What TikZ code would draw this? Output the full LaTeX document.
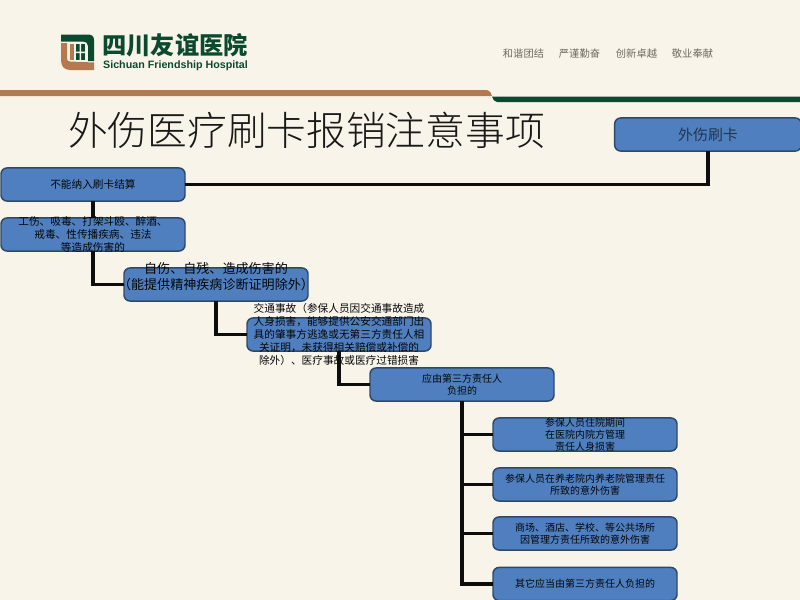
\documentclass[tikz,border=0pt]{standalone}
\usepackage{fontspec}
\setmainfont{Noto Sans CJK SC}
\newfontfamily\titlefont{Noto Sans CJK SC Light}
\newfontfamily\latinbold{Liberation Sans}
\definecolor{pagebg}{HTML}{F8F4E9}
\definecolor{boxfill}{HTML}{4F7FBF}
\definecolor{boxedge}{HTML}{2E4866}
\definecolor{brownbar}{HTML}{B5784F}
\definecolor{greenbar}{HTML}{0B4A2F}
\definecolor{mottogray}{HTML}{6F6A60}
\tikzset{
  boxnode/.style={draw=boxedge,fill=boxfill,line width=1.1pt,rounded corners=4.5pt,minimum width=138pt,minimum height=24.8pt,inner sep=0pt,outer sep=0pt},
  boxtext/.style={align=center,inner sep=0pt,font=\fontsize{8pt}{9.8pt}\selectfont,text=black!90!boxedge},
  smalltext/.style={boxtext,font=\fontsize{7.5pt}{9.2pt}\selectfont},
  link/.style={draw=black!95,line width=2.3pt,line join=miter}
}
\begin{document}
\begin{tikzpicture}[x=0.75pt,y=-0.75pt]
\useasboundingbox (0,0) rectangle (800,600);
\fill[pagebg] (0,0) rectangle (800,600);
% header bars
\fill[brownbar] (0,90) -- (487,90) .. controls (490,90) and (491,93) .. (492,96) -- (0,96) -- cycle;
\fill[greenbar] (492,96.6) -- (800,96.6) -- (800,102) -- (497,102) .. controls (494,102) and (493,99) .. (492,96.6) -- cycle;
% logo
\fill[greenbar] (61,34.5) -- (88,34.5) .. controls (92,34.5) and (94,36.5) .. (94,40) -- (94,61) -- (88,61) -- (88,46) .. controls (88,43) and (86,41.5) .. (83,41.5) -- (61,41.5) -- cycle;
\fill[brownbar] (61,43) -- (67,43) -- (67,58) .. controls (67,60.5) and (68,61.5) .. (70,61.5) -- (94,62.5) -- (94,70) -- (70,70) .. controls (64,70) and (61,66) .. (61,60) -- cycle;
\fill[brownbar] (70,44) rectangle (74,60);
\fill[greenbar] (76,44) rectangle (85,60);
\fill[pagebg] (79.5,44) rectangle (81,60) (76,51.5) rectangle (85,53);
\node[inner sep=0pt,font=\bfseries\fontsize{18.2pt}{20pt}\selectfont,text=greenbar] (logocn) at (175,45.5) {四川友谊医院};
\node[inner sep=0pt,text=greenbar] (logoen) at (175.5,65.5) {\resizebox{108.5pt}{!}{\latinbold\bfseries Sichuan Friendship Hospital}};
% motto
\foreach \n/\t/\x in {m1/和谐团结/523.5,m2/严谨勤奋/579.5,m3/创新卓越/636.5,m4/敬业奉献/692.5}
  \node[inner sep=0pt,font=\fontsize{7.7pt}{9pt}\selectfont,text=mottogray] (\n) at (\x,53.5) {\t};
% title
\node[inner sep=0pt,font=\titlefont\fontsize{29.8pt}{32pt}\selectfont,text=black!90] (title) at (306.5,130) {外伤医疗刷卡报销注意事项};
% boxes
\begin{scope}
\clip (0,0) rectangle (800,600);
\node[boxnode,minimum width=140pt] (card) at (708,134.5) {};
\node[boxnode] (a) at (93,184.5) {};
\node[boxnode] (b) at (93,234.5) {};
\node[boxnode] (c) at (216,284.5) {};
\node[boxnode] (d) at (339,334.5) {};
\node[boxnode] (e) at (462,384.5) {};
\node[boxnode] (f1) at (585,434.5) {};
\node[boxnode] (f2) at (585,484.5) {};
\node[boxnode] (f3) at (585,533.5) {};
\node[boxnode] (f4) at (585,584) {};
\end{scope}
% connectors
\draw[link] (card.south) |- (a.east);
\draw[link] (a.south) -- (b.north);
\draw[link] (b.south) |- (c.west);
\draw[link] (c.south) |- (d.west);
\draw[link] (d.south) |- (e.west);
\draw[link] (e.south) |- (f1.west);
\draw[link] (e.south) |- (f2.west);
\draw[link] (e.south) |- (f3.west);
\draw[link] (e.south) |- (f4.west);
% texts
\node[boxtext,font=\fontsize{11.2pt}{12pt}\selectfont,text=boxedge!75!black] (tcard) at (708,134.5) {外伤刷卡};
\node[boxtext] (ta) at (93,184.5) {不能纳入刷卡结算};
\node[boxtext] (tb) at (93,234.5) {工伤、吸毒、打架斗殴、醉酒、\\戒毒、性传播疾病、违法\\等造成伤害的};
\node[boxtext,font=\fontsize{9.8pt}{12.4pt}\selectfont] (tc) at (216,276.5) {自伤、自残、造成伤害的\\（能提供精神疾病诊断证明除外）};
\node[boxtext] (td) at (339,334.5) {交通事故（参保人员因交通事故造成\\人身损害，能够提供公安交通部门出\\具的肇事方逃逸或无第三方责任人相\\关证明，未获得相关赔偿或补偿的\\除外）、医疗事故或医疗过错损害};
\node[smalltext] (te) at (462,384.5) {应由第三方责任人\\负担的};
\node[smalltext] (tf1) at (585,434.5) {参保人员住院期间\\在医院内院方管理\\责任人身损害};
\node[smalltext] (tf2) at (585,484.5) {参保人员在养老院内养老院管理责任\\所致的意外伤害};
\node[smalltext] (tf3) at (585,533.5) {商场、酒店、学校、等公共场所\\因管理方责任所致的意外伤害};
\node[smalltext] (tf4) at (585,584) {其它应当由第三方责任人负担的};
\end{tikzpicture}
\end{document}
